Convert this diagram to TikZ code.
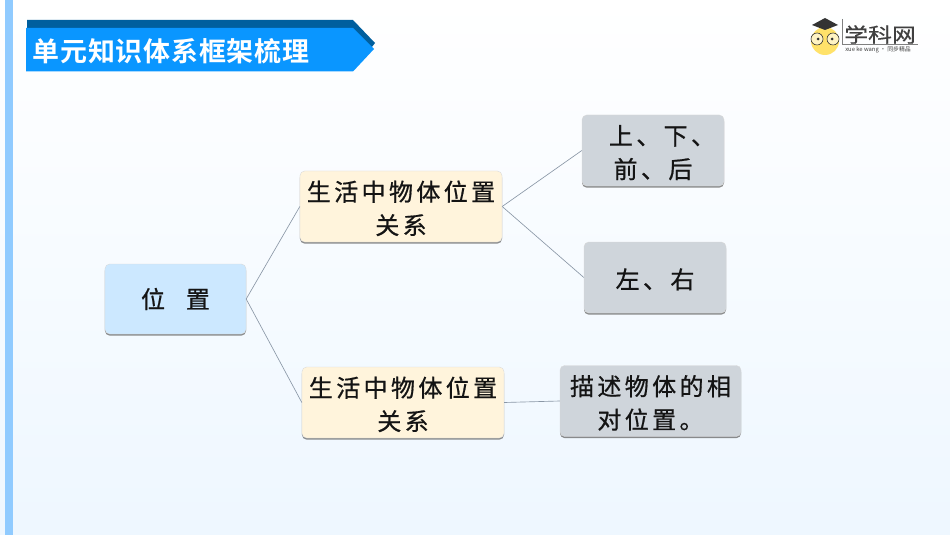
\documentclass[tikz,border=0pt]{standalone}
\usepackage{fontspec}
\usepackage{tikz}
\usetikzlibrary{shadows}
\newfontfamily\boxfont[LetterSpace=14,FakeBold=0.7]{Noto Sans CJK SC}
\newfontfamily\titlefont[LetterSpace=3]{Noto Sans CJK SC Bold}
\newfontfamily\logofont[FakeBold=0.5]{Noto Sans CJK SC}
\newfontfamily\logosmall{Noto Sans CJK SC}
\newcommand{\lowline}{\rule{0pt}{20.5pt}}
\definecolor{rootblue}{HTML}{CCE8FF}
\definecolor{midcream}{HTML}{FFF4DC}
\definecolor{leafgray}{HTML}{CFD5DB}
\definecolor{linegray}{HTML}{8A97A6}
\definecolor{barblue}{HTML}{0A96FF}
\definecolor{bardark}{HTML}{005F9E}
\definecolor{sideblue}{HTML}{90CBFF}
\definecolor{pagetint}{HTML}{EEF7FF}
\definecolor{faceyellow}{HTML}{FFE26A}
\tikzset{
  basebox/.style={draw=black!15, line width=0.3pt, rounded corners=4pt, align=center, inner sep=0pt,
    text=black!92, font=\fontsize{20.5pt}{28.5pt}\selectfont\boxfont,
    drop shadow={shadow xshift=0pt, shadow yshift=-1.4pt, fill=black!60, opacity=0.75}},
  rootbox/.style={basebox, fill=rootblue, minimum width=4.23cm, minimum height=2.1cm},
  midbox/.style={basebox, fill=midcream, minimum width=6.06cm, minimum height=2.13cm},
  leafbox/.style={basebox, fill=leafgray, minimum width=4.26cm, minimum height=2.13cm},
  link/.style={draw=linegray, line width=0.55pt}
}
\begin{document}
\begin{tikzpicture}[x=0.03cm, y=-0.03cm]
  \useasboundingbox (0,0) rectangle (950,535);
  % page
  \shade[top color=white, bottom color=pagetint] (0,0) rectangle (950,535);
  \fill[sideblue] (5,0) rectangle (13,535);

  % title banner
  \fill[bardark] (27,20) -- (353,20) -- (375,43) -- (368,52) -- (27,52) -- cycle;
  \fill[barblue] (26,28) -- (353,28) -- (374,49) -- (353,71.5) -- (26,71.5) -- cycle;
  \node[text=white, font=\fontsize{23pt}{23pt}\selectfont\titlefont, inner sep=0pt] (title) at (171,51) {单元知识体系框架梳理};

  % logo
  \fill[faceyellow] (825,41) circle (14);
  \fill[black!80] (812,25) -- (825,18) -- (838,25) -- (825,30) -- cycle;
  \draw[black!80, line width=0.5pt, fill=white!60!faceyellow] (817,39) circle (6);
  \draw[black!80, line width=0.5pt, fill=white!60!faceyellow] (833,39) circle (6);
  \fill[black!80] (818,39) circle (1.5);
  \fill[black!80] (832,39) circle (1.5);
  \draw[black!50, line width=0.4pt] (842,19) -- (842,44) -- (918,44);
  \node[text=black!75, font=\fontsize{17pt}{17pt}\selectfont\logofont, inner sep=0pt, xscale=1.2, transform shape] (logoname) at (880,34.5) {学科网};
  \node[text=black!75, font=\fontsize{5pt}{5pt}\selectfont\logosmall, inner sep=0pt] (logosub) at (878,50) {xue ke wang · 同步精品};

  % boxes
  \node[rootbox] (pos) at (175.5,299) {位\hspace{0.87em}置};
  \node[midbox] (life1) at (401,206.5) {\lowline 生活中物体位置\\关系};
  \node[midbox] (life2) at (403,402.5) {\lowline 生活中物体位置\\关系};
  \node[leafbox] (updown) at (653,150.5) {\lowline\hspace*{0.75em}上、下、\\前、后};
  \node[leafbox] (leftright) at (655,277.5) {\lowline 左、右};
  \node[leafbox, minimum width=5.43cm] (relative) at (650.5,401) {\lowline 描述物体的相\\对位置。};

  % links
  \draw[link] (pos.east) -- (life1.west);
  \draw[link] (pos.east) -- (life2.west);
  \draw[link] (life1.east) -- (updown.west);
  \draw[link] (life1.east) -- (leftright.west);
  \draw[link] (life2.east) -- (relative.west);
\end{tikzpicture}
\end{document}
